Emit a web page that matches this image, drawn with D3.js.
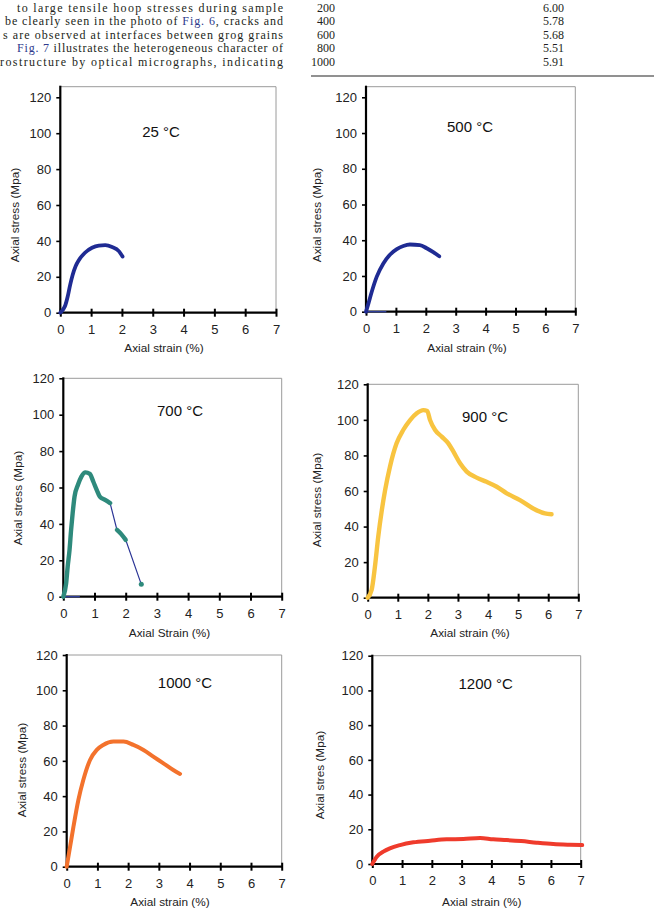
<!DOCTYPE html>
<html><head><meta charset="utf-8">
<script src="https://cdn.jsdelivr.net/npm/d3@7"></script>
<style>body{margin:0;background:#fff}svg{display:block}</style>
</head><body><svg id="c" width="654" height="908"></svg>
<script>
// ---------- data ----------
const strainTicks = [0,1,2,3,4,5,6,7];
const stressTicks = [0,20,40,60,80,100,120];
const panelTitles = ["25 °C","500 °C","700 °C","900 °C","1000 °C","1200 °C"];
const xTitles = ["Axial strain (%)","Axial strain (%)","Axial Strain  (%)","Axial strain (%)","Axial strain (%)","Axial strain  (%)"];
const yTitles = ["Axial stress (Mpa)","Axial stress (Mpa)","Axial stress (Mpa)","Axial stress (Mpa)","Axial stress  (Mpa)","Axial stres (Mpa)"];

const strain25 = [0,0.08,0.16,0.24,0.32,0.4,0.5,0.6,0.8,1.03,1.25,1.46,1.68,1.9,2.02];
const stress25 = [0,1.5,4,9,15.5,21,26,29.2,33.4,36.2,37.4,37.6,36.6,34.3,31.3];

const strain500 = [0,0.08,0.19,0.36,0.58,0.8,1.03,1.25,1.47,1.8,2.03,2.25,2.45];
const stress500 = [0,4.5,11,19.6,27,31.9,35,36.8,37.6,37.3,35.5,33.3,31];
const unload500 = [0,0.68];

const strain700 = [0,0.09,0.14,0.2,0.25,0.3,0.36,0.47,0.58,0.71,0.85,0.96,1.07,1.17,1.34,1.5,1.72,1.85,2.0,2.5];
const stress700 = [0,7.3,16.5,25.7,36.7,45.9,55,61.5,66,68.3,67.5,63.3,58.7,55,53.2,51.4,36.7,34.5,31.2,6.8];
const denseSegments700 = [[0,1.5],[1.72,2.0]];
const unload700 = [0,0.53];

const strain900 = [0,0.13,0.24,0.35,0.47,0.58,0.74,0.96,1.18,1.41,1.63,1.85,1.98,2.07,2.24,2.46,2.68,2.85,3.07,3.29,3.62,3.95,4.29,4.62,5.06,5.5,5.89,6.11];
const stress900 = [0,4.3,17.4,34.3,49.3,60.6,73.7,86.8,94.3,99.9,103.7,105.5,105,100,94.3,90.6,86.8,82.1,75.6,70.9,67.5,65.2,62.4,58.7,54.9,50.2,47.4,46.9];

const strain1000 = [0,0.11,0.22,0.38,0.54,0.76,0.98,1.19,1.52,1.85,2.17,2.5,2.82,3.15,3.47,3.69];
const stress1000 = [0,11.3,22.7,37.8,49.1,60.5,66.2,69,70.9,70.9,69,66.2,62.4,58.6,54.8,52.6];

const strain1200 = [0,0.15,0.37,0.59,0.93,1.38,1.94,2.5,3.06,3.62,4.06,4.51,5.0,5.52,6.08,6.64,7.05];
const stress1200 = [0,4.2,7.1,9,10.9,12.5,13.4,14.2,14.4,15,14.2,13.8,13.2,12.3,11.5,11.1,10.9];

const textLines = [
  "to large tensile hoop stresses during sample",
  "be clearly seen in the photo of Fig. 6, cracks and",
  "s are observed at interfaces between grog grains",
  "Fig. 7 illustrates the heterogeneous character of",
  "rostructure by optical micrographs, indicating"
];
const tableTemps = ["200","400","600","800","1000"];
const tableValues = ["6.00","5.78","5.68","5.51","5.91"];

// ---------- layout ----------
const layout = [
  {x0:60.3,x7:276,y0:312.7,y120:97.3,top:86.7,title:[161,137],xt:[164,352],yl:[15,215]},
  {x0:366,x7:575.3,y0:311.7,y120:97.3,top:86.7,title:[470,132],xt:[467,352],yl:[317,215]},
  {x0:63.3,x7:281.7,y0:596.7,y120:378.3,top:378.3,title:[180,416],xt:[169.5,637],yl:[18,498]},
  {x0:367.7,x7:578.3,y0:597.7,y120:384.3,top:384.3,title:[485,422],xt:[470,637],yl:[317,500]},
  {x0:66.7,x7:281.7,y0:866.7,y120:655,top:655,title:[185,688],xt:[170,906],yl:[21.7,770]},
  {x0:372.3,x7:580.7,y0:864,y120:655.7,top:655.7,title:[485.7,689],xt:[481.7,906],yl:[320,775]}
];
const series = [
  {x:strain25,y:stress25,color:"#1f2b93",w:3.8},
  {x:strain500,y:stress500,color:"#1f2b93",w:3.8,unload:unload500},
  {x:strain700,y:stress700,color:"#2e8a7c",w:4.4,thin:"#2b3596",unload:unload700,dense:denseSegments700},
  {x:strain900,y:stress900,color:"#f8c440",w:4.4},
  {x:strain1000,y:stress1000,color:"#f3722c",w:4},
  {x:strain1200,y:stress1200,color:"#ef3b2c",w:4}
];

const svg = d3.select("#c");
const sans = "'Liberation Sans', Arial, sans-serif";
const serif = "'Liberation Serif', 'Times New Roman', serif";

// ---------- header text ----------
const lineStarts = [17,5,3,17,0];
const baselines = [11.5,25,38.5,52,65.5];
textLines.forEach((t,i)=>{
  const txt = svg.append("text").attr("x",lineStarts[i]).attr("y",baselines[i])
    .attr("font-family",serif).attr("font-size",12).attr("fill","#231f20")
    .attr("textLength",283-lineStarts[i]).attr("lengthAdjust","spacing");
  const m = t.match(/^(.*?)(Fig\. \d)(.*)$/);
  if (m) {
    txt.append("tspan").text(m[1]);
    txt.append("tspan").attr("fill","#2e3a8c").text(m[2]);
    txt.append("tspan").text(m[3]);
  } else txt.text(t);
});
tableTemps.forEach((t,i)=>{
  svg.append("text").attr("x",335).attr("y",baselines[i]).attr("text-anchor","end")
    .attr("font-family",serif).attr("font-size",12).attr("fill","#231f20").text(t);
  svg.append("text").attr("x",543).attr("y",baselines[i])
    .attr("font-family",serif).attr("font-size",12).attr("fill","#231f20").text(tableValues[i]);
});
svg.append("line").attr("x1",311).attr("x2",654).attr("y1",76).attr("y2",76)
  .attr("stroke","#6d6d6d").attr("stroke-width",1.6);

// ---------- panels ----------
layout.forEach((L,i)=>{
  const s = series[i];
  const x = d3.scaleLinear().domain([0,7]).range([L.x0,L.x7]);
  const y = d3.scaleLinear().domain([0,120]).range([L.y0,L.y120]);
  const g = svg.append("g");

  g.append("path").attr("d",`M${L.x0},${L.top}H${L.x7}V${L.y0}`)
    .attr("fill","none").attr("stroke","#9a9a9a").attr("stroke-width",1);

  const ya = g.append("g").attr("transform",`translate(${L.x0},0)`)
    .call(d3.axisLeft(y).tickValues(stressTicks).tickFormat(d3.format("d")).tickSize(4).tickPadding(5));
  ya.select(".domain").remove();
  ya.selectAll(".tick line").attr("stroke","#000").attr("stroke-width",1.6);
  ya.selectAll(".tick text").attr("font-family",sans).attr("font-size",13).attr("fill","#222");
  g.append("line").attr("x1",L.x0).attr("x2",L.x0).attr("y1",L.y0+1).attr("y2",L.top-1)
    .attr("stroke","#000").attr("stroke-width",2.2);

  const xa = g.append("g").attr("transform",`translate(0,${L.y0})`)
    .call(d3.axisBottom(x).tickValues(strainTicks).tickFormat(d3.format("d")).tickSize(4).tickPadding(8));
  xa.select(".domain").remove();
  xa.selectAll(".tick line").attr("y1",-4).attr("y2",4).attr("stroke","#000").attr("stroke-width",2);
  xa.selectAll(".tick text").attr("font-family",sans).attr("font-size",13).attr("fill","#222");
  g.append("line").attr("x1",L.x0-1).attr("x2",L.x7+1).attr("y1",L.y0).attr("y2",L.y0)
    .attr("stroke","#000").attr("stroke-width",2.2);

  g.append("text").attr("x",L.xt[0]).attr("y",L.xt[1]).attr("text-anchor","middle")
    .attr("font-family",sans).attr("font-size",11.8).attr("fill","#222").text(xTitles[i]);
  g.append("text").attr("transform",`translate(${L.yl[0]+4},${L.yl[1]}) rotate(-90)`)
    .attr("text-anchor","middle").attr("font-family",sans).attr("font-size",11.8)
    .attr("fill","#222").text(yTitles[i]);
  g.append("text").attr("x",L.title[0]).attr("y",L.title[1]).attr("text-anchor","middle")
    .attr("font-family",sans).attr("font-size",15).attr("fill","#111").text(panelTitles[i]);

  const pts = s.x.map((v,k)=>[v,s.y[k]]);
  if (s.unload) {
    g.append("line").attr("x1",x(s.unload[0])).attr("x2",x(s.unload[1]))
      .attr("y1",y(0)).attr("y2",y(0)).attr("stroke","#3344aa").attr("stroke-width",1.2);
  }
  if (s.dense) {
    const lin = d3.line().x(d=>x(d[0])).y(d=>y(d[1]));
    g.append("path").attr("d",lin(pts)).attr("fill","none").attr("stroke",s.thin).attr("stroke-width",1.2);
    const sm = d3.line().x(d=>x(d[0])).y(d=>y(d[1])).curve(d3.curveMonotoneX);
    s.dense.forEach(r=>{
      const seg = pts.filter(p=>p[0]>=r[0]-1e-9 && p[0]<=r[1]+1e-9);
      g.append("path").attr("d",sm(seg)).attr("fill","none").attr("stroke",s.color)
        .attr("stroke-width",s.w).attr("stroke-linecap","round").attr("stroke-linejoin","round");
    });
    const last = pts[pts.length-1];
    g.append("circle").attr("cx",x(last[0])).attr("cy",y(last[1])).attr("r",2.5).attr("fill",s.color);
  } else {
    const line = d3.line().x(d=>x(d[0])).y(d=>y(d[1])).curve(d3.curveMonotoneX);
    g.append("path").attr("d",line(pts)).attr("fill","none").attr("stroke",s.color)
      .attr("stroke-width",s.w).attr("stroke-linecap","round").attr("stroke-linejoin","round");
  }
});
</script>
</body></html>
